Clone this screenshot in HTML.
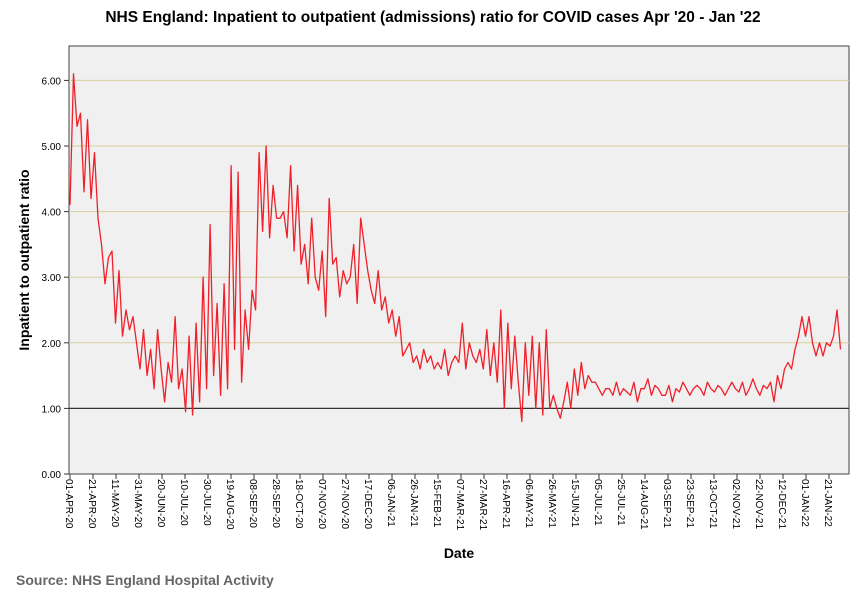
<!DOCTYPE html>
<html><head><meta charset="utf-8"><style>
body{margin:0;background:#fff;width:866px;height:599px;overflow:hidden;font-family:"Liberation Sans",Arial,sans-serif}
</style></head><body>
<svg width="866" height="599" xmlns="http://www.w3.org/2000/svg" font-family="Liberation Sans, Arial, sans-serif">
<text x="433" y="22" text-anchor="middle" font-size="15.5" font-weight="bold">NHS England: Inpatient to outpatient (admissions) ratio for COVID cases Apr '20 - Jan '22</text>
<rect x="69" y="46" width="780" height="428" fill="#f0f0f0" stroke="#444" stroke-width="1"/>
<g id="grid"></g>
<g id="yaxis"></g>
<g id="xaxis"></g>
<polyline id="series" fill="none" stroke="#f0202a" stroke-width="1.3" stroke-linejoin="round"/>
<text transform="translate(29,260) rotate(-90)" text-anchor="middle" font-size="14" font-weight="bold">Inpatient to outpatient ratio</text>
<text x="459" y="558" text-anchor="middle" font-size="14" font-weight="bold">Date</text>
<text x="16" y="585" font-size="14" font-weight="bold" fill="#666">Source: NHS England Hospital Activity</text>
</svg>
<script>
const yTicks=[0,1,2,3,4,5,6];
const yTickLabels=["0.00","1.00","2.00","3.00","4.00","5.00","6.00"];
const xTickDays=[0,20,40,60,80,100,120,140,160,180,200,220,240,260,280,300,320,340,360,380,400,420,440,460,480,500,520,540,560,580,600,620,640,660];
const xTickLabels=["01-APR-20","21-APR-20","11-MAY-20","31-MAY-20","20-JUN-20","10-JUL-20","30-JUL-20","19-AUG-20","08-SEP-20","28-SEP-20","18-OCT-20","07-NOV-20","27-NOV-20","17-DEC-20","06-JAN-21","26-JAN-21","15-FEB-21","07-MAR-21","27-MAR-21","16-APR-21","06-MAY-21","26-MAY-21","15-JUN-21","05-JUL-21","25-JUL-21","14-AUG-21","03-SEP-21","23-SEP-21","13-OCT-21","02-NOV-21","22-NOV-21","12-DEC-21","01-JAN-22","21-JAN-22"];
const lastDay=670;
const ratio=[
4.1,6.1,5.3,5.5,4.3,5.4,4.2,4.9,3.9,3.5,
2.9,3.3,3.4,2.3,3.1,2.1,2.5,2.2,2.4,2.0,
1.6,2.2,1.5,1.9,1.3,2.2,1.6,1.1,1.7,1.4,
2.4,1.3,1.6,0.95,2.1,0.9,2.3,1.1,3.0,1.3,
3.8,1.5,2.6,1.2,2.9,1.3,4.7,1.9,4.6,1.4,
2.5,1.9,2.8,2.5,4.9,3.7,5.0,3.6,4.4,3.9,
3.9,4.0,3.6,4.7,3.4,4.4,3.2,3.5,2.9,3.9,
3.0,2.8,3.4,2.4,4.2,3.2,3.3,2.7,3.1,2.9,
3.0,3.5,2.6,3.9,3.5,3.1,2.8,2.6,3.1,2.5,
2.7,2.3,2.5,2.1,2.4,1.8,1.9,2.0,1.7,1.8,
1.6,1.9,1.7,1.8,1.6,1.7,1.6,1.9,1.5,1.7,
1.8,1.7,2.3,1.6,2.0,1.8,1.7,1.9,1.6,2.2,
1.5,2.0,1.4,2.5,1.0,2.3,1.3,2.1,1.4,0.8,
2.0,1.2,2.1,1.0,2.0,0.9,2.2,1.0,1.2,1.0,
0.85,1.1,1.4,1.0,1.6,1.2,1.7,1.3,1.5,1.4,
1.4,1.3,1.2,1.3,1.3,1.2,1.4,1.2,1.3,1.25,
1.2,1.4,1.1,1.3,1.3,1.45,1.2,1.35,1.3,1.2,
1.2,1.35,1.1,1.3,1.25,1.4,1.3,1.2,1.3,1.35,
1.3,1.2,1.4,1.3,1.25,1.35,1.3,1.2,1.3,1.4,
1.3,1.25,1.4,1.2,1.3,1.45,1.3,1.2,1.35,1.3,
1.4,1.1,1.5,1.3,1.6,1.7,1.6,1.9,2.1,2.4,
2.1,2.4,2.0,1.8,2.0,1.8,2.0,1.95,2.1,2.5,1.9];
const NS="http://www.w3.org/2000/svg";
const x=d=>70+d*(759/660);
const y=v=>474-v*65.6;
function mk(tag,attrs,parent,txt){const e=document.createElementNS(NS,tag);for(const k in attrs)e.setAttribute(k,attrs[k]);if(txt!==undefined)e.textContent=txt;parent.appendChild(e);return e;}
const grid=document.getElementById('grid'),ya=document.getElementById('yaxis'),xa=document.getElementById('xaxis');
yTicks.forEach((v,i)=>{
  if(v>0){const g=mk('line',{x1:69,x2:849,y1:y(v),y2:y(v),stroke:v===1?'#333':'#d6cf9c','stroke-width':v===1?1.3:1},grid);
  
  }
  const t=mk('line',{x1:64,x2:69,y1:y(v),y2:y(v),stroke:'#333'},ya);
  
  
  const l=mk('text',{x:61,y:y(v)+4,'text-anchor':'end','font-size':10},ya,yTickLabels[i]);
  
  
});
xTickDays.forEach((d,i)=>{
  const t=mk('line',{x1:x(d),x2:x(d),y1:474,y2:479,stroke:'#333'},xa);
  
  
  const l=mk('text',{transform:`translate(${x(d)-4},479) rotate(90)`,'font-size':10},xa,xTickLabels[i]);
  
  
});
const step=lastDay/(ratio.length-1);
document.getElementById('series').setAttribute('points',ratio.map((v,i)=>x(i*step).toFixed(1)+','+y(v).toFixed(1)).join(' '));
</script>
</body></html>
